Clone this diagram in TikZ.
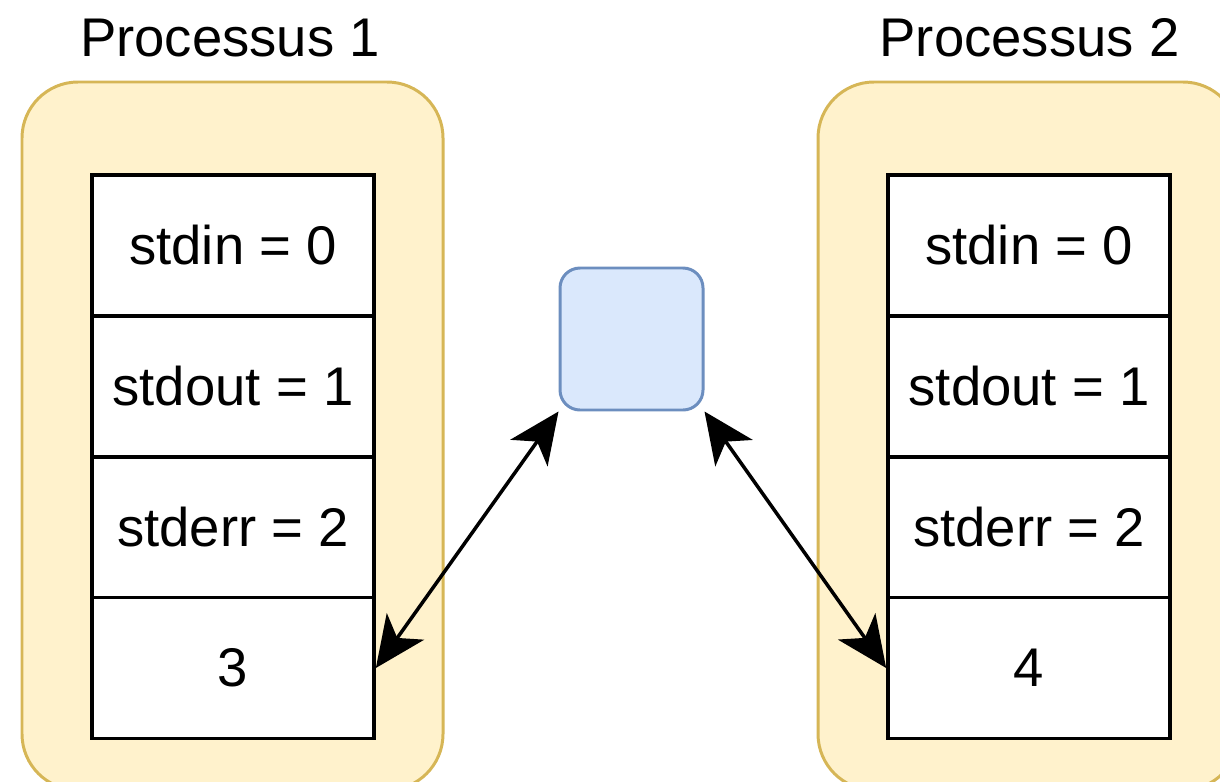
\documentclass[tikz,border=0pt]{standalone}
\usepackage{fontspec}
\setmainfont{Liberation Sans}
\usetikzlibrary{arrows.meta}
\definecolor{procfill}{HTML}{FFF2CC}
\definecolor{procdraw}{HTML}{D6B656}
\definecolor{pipefill}{HTML}{DAE8FC}
\definecolor{pipedraw}{HTML}{6C8EBF}
\tikzset{
  fdcell/.style={draw=black, fill=white, line width=2.1pt, inner sep=0pt,
    minimum width=5.64cm, minimum height=2.82cm, font=\fontsize{31}{37}\selectfont},
  proctitle/.style={inner sep=0pt, font=\fontsize{31}{37}\selectfont},
  procbox/.style={draw=procdraw, fill=procfill, line width=1.7pt, rounded corners=1.12cm},
  pipebox/.style={draw=pipedraw, fill=pipefill, line width=1.7pt, rounded corners=0.4cm,
    minimum width=2.86cm, minimum height=2.84cm, inner sep=0pt},
  fdlink/.style={line width=2pt, {Stealth[length=29pt, width=26pt, inset=8pt]}-{Stealth[length=29pt, width=26pt, inset=8pt]}}
}

\begin{document}
\begin{tikzpicture}
          \useasboundingbox (0,0) rectangle (24.4,-15.62);
          \clip (0,0) rectangle (24.4,-15.62);

          \draw [procbox] (0.44,-1.64) rectangle (8.86,-15.8);
          \draw [procbox] (16.36,-1.64) rectangle (24.78,-15.8);

          \node [proctitle] (title1) at (4.6,-0.76) {Processus 1};
          \node [proctitle] (title2) at (20.59,-0.76) {Processus 2};

          % processus 1
          \node [fdcell] (p1in) at (4.66,-4.91) {stdin = 0};
          \node [fdcell] (p1out) at (4.66,-7.73) {stdout = 1};
          \node [fdcell] (p1err) at (4.66,-10.55) {stderr = 2};
          \node [fdcell] (p1fd) at (4.66,-13.36) {3};

          % processus 2
          \node [fdcell] (p2in) at (20.58,-4.91) {stdin = 0};
          \node [fdcell] (p2out) at (20.58,-7.73) {stdout = 1};
          \node [fdcell] (p2err) at (20.58,-10.55) {stderr = 2};
          \node [fdcell] (p2fd) at (20.58,-13.36) {4};

          \node [pipebox] (pipe) at (12.63,-6.78) {};

          \draw [fdlink] (pipe.south west) -- (p1fd.east);
          \draw [fdlink] (pipe.south east) -- (p2fd.west);
\end{tikzpicture}
\end{document}
